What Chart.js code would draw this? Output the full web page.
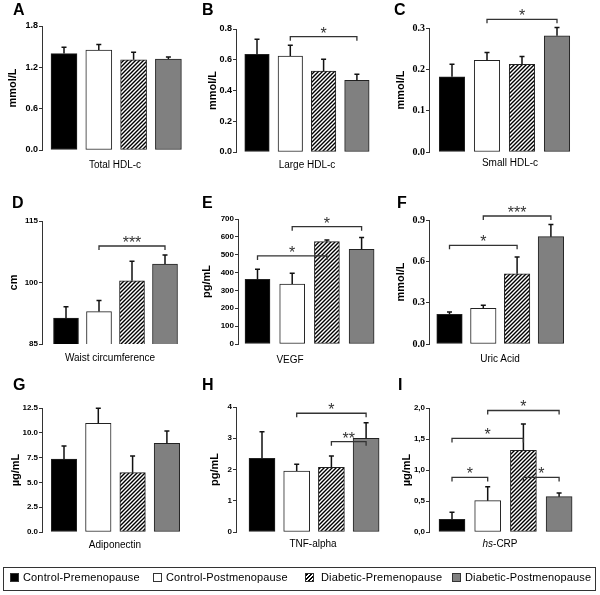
<!doctype html>
<html lang="en">
<head>
<meta charset="utf-8">
<title>HDL subclasses, adipokines and inflammation markers</title>
<script src="https://cdn.jsdelivr.net/npm/chart.js@4.4.0/dist/chart.umd.min.js"></script>
<style>
  body { margin: 0; background: #fff; font-family: "Liberation Sans", Arial, sans-serif; }
  #fig { position: relative; width: 600px; height: 595px; overflow: hidden; }
  #fig canvas { position: absolute; }
  .letter { position: absolute; font-weight: bold; font-size: 16px; line-height: 16px; color: #000; }
  .xlab { position: absolute; font-size: 10px; line-height: 12px; transform: translateX(-50%); white-space: nowrap; }
  #legendBox { position: absolute; left: 3px; top: 567px; width: 593px; height: 24px; box-sizing: border-box; border: 1px solid #333; }
  .key { position: absolute; top: 573px; width: 9px; height: 9px; box-sizing: border-box; border: 1px solid #333; }
  .ktxt { position: absolute; top: 571px; font-size: 11px; line-height: 13px; letter-spacing: 0.15px; white-space: nowrap; }
</style>
</head>
<body>
<div id="fig">
  <div id="legendBox"></div>
</div>

<script>
// groups (legend order)
var groups = ['Control-Premenopause', 'Control-Postmenopause', 'Diabetic-Premenopause', 'Diabetic-Postmenopause'];

// mean values and upper error (SEM) per panel
var totalHdl = [1.40, 1.45, 1.31, 1.32];
var totalHdlErr = [0.09, 0.08, 0.11, 0.03];
var largeHdl = [0.635, 0.624, 0.527, 0.466];
var largeHdlErr = [0.098, 0.070, 0.076, 0.039];
var smallHdl = [0.182, 0.222, 0.212, 0.281];
var smallHdlErr = [0.030, 0.019, 0.019, 0.020];
var waist = [91.3, 92.9, 100.4, 104.5];
var waistErr = [2.8, 2.7, 4.8, 2.2];
var vegf = [362, 336, 573, 530];
var vegfErr = [56, 60, 9, 67];
var uric = [0.215, 0.259, 0.510, 0.779];
var uricErr = [0.017, 0.022, 0.121, 0.089];
var adipo = [7.36, 10.96, 5.98, 8.94];
var adipoErr = [1.31, 1.51, 1.68, 1.24];
var tnf = [2.36, 1.95, 2.07, 3.00];
var tnfErr = [0.85, 0.22, 0.36, 0.50];
var crp = [0.204, 0.505, 1.317, 0.570];
var crpErr = [0.113, 0.226, 0.423, 0.060];

// y tick labels
var totalHdlTicks = [0, 0.6, 1.2, 1.8];
var largeHdlTicks = [0, 0.2, 0.4, 0.6, 0.8];
var smallHdlTicks = [0, 0.1, 0.2, 0.3];
var waistTicks = [85, 100, 115];
var vegfTicks = [0, 100, 200, 300, 400, 500, 600, 700];
var uricTicks = [0, 0.3, 0.6, 0.9];
var adipoTicks = [0, 2.5, 5, 7.5, 10, 12.5];
var tnfTicks = [0, 1, 2, 3, 4];
var crpTicks = [0, 0.5, 1, 1.5, 2];

// significance brackets: [from group, to group, bracket level, stars]
var largeHdlSig = [[2, 4, 0.75, '*']];
var smallHdlSig = [[2, 4, 0.321, '*']];
var waistSig = [[2, 4, 108.9, '***']];
var vegfSig = [[2, 4, 657, '*'], [1, 3, 493, '*']];
var uricSig = [[1, 3, 0.716, '*'], [2, 4, 0.929, '***']];
var tnfSig = [[2, 4, 3.80, '*'], [3, 4, 2.89, '**']];
var crpSig = [[1, 2, 0.88, '*'], [1, 3, 1.51, '*'], [2, 4, 1.96, '*'], [3, 4, 0.88, '*']];

function hatch() {
  var c = document.createElement('canvas');
  c.width = 4; c.height = 4;
  var g = c.getContext('2d');
  g.fillStyle = '#fff'; g.fillRect(0, 0, 4, 4);
  g.strokeStyle = '#000'; g.lineWidth = 1.4;
  g.beginPath();
  g.moveTo(0, 4); g.lineTo(4, 0);
  g.moveTo(-1, 1); g.lineTo(1, -1);
  g.moveTo(3, 5); g.lineTo(5, 3);
  g.stroke();
  return g.createPattern(c, 'repeat');
}

var fills = ['#000', '#fff', hatch(), '#808080'];

var panels = [
  { key: 'A', x: 0, y: 0, vals: totalHdl, err: totalHdlErr, ticks: totalHdlTicks, sig: [], dec: 1, unit: 'mmol/L', name: 'Total HDL-c',
    top: 26, bot: 150, c1: 64, step: 34.8, bw: 26, tf: 9, serif: false, tx: 13, letter: [13, 2], lab: [115, 165] },
  { key: 'B', x: 194, y: 0, vals: largeHdl, err: largeHdlErr, ticks: largeHdlTicks, sig: largeHdlSig, dec: 1, unit: 'mmol/L', name: 'Large HDL-c',
    top: 29, bot: 152, c1: 63, step: 33.3, bw: 24.5, tf: 9, serif: false, tx: 19, letter: [202, 2], lab: [307, 165] },
  { key: 'C', x: 387, y: 0, vals: smallHdl, err: smallHdlErr, ticks: smallHdlTicks, sig: smallHdlSig, dec: 1, unit: 'mmol/L', name: 'Small HDL-c',
    top: 28, bot: 152, c1: 65, step: 35, bw: 25.5, tf: 10, serif: true, tx: 14, letter: [394, 2], lab: [510, 163] },
  { key: 'D', x: 0, y: 185, vals: waist, err: waistErr, ticks: waistTicks, sig: waistSig, dec: 0, unit: 'cm', name: 'Waist circumference',
    top: 36, bot: 159, c1: 66, step: 33, bw: 25, tf: 8, serif: false, tx: 13.5, letter: [12, 195], lab: [110, 358] },
  { key: 'E', x: 196, y: 185, vals: vegf, err: vegfErr, ticks: vegfTicks, sig: vegfSig, dec: 0, unit: 'pg/mL', name: 'VEGF',
    top: 34, bot: 159, c1: 61.5, step: 34.7, bw: 25, tf: 8, serif: false, tx: 10.5, letter: [202, 195], lab: [290, 360] },
  { key: 'F', x: 387, y: 185, vals: uric, err: uricErr, ticks: uricTicks, sig: uricSig, dec: 1, unit: 'mmol/L', name: 'Uric Acid',
    top: 35, bot: 159, c1: 62.5, step: 33.8, bw: 25.5, tf: 10, serif: true, tx: 14, letter: [397, 195], lab: [500, 359] },
  { key: 'G', x: 0, y: 370, vals: adipo, err: adipoErr, ticks: adipoTicks, sig: [], dec: 1, unit: 'µg/mL', name: 'Adiponectin',
    top: 38, bot: 162, c1: 64, step: 34.3, bw: 25.5, tf: 8, serif: false, tx: 15.5, letter: [13, 377], lab: [115, 545] },
  { key: 'H', x: 194, y: 370, vals: tnf, err: tnfErr, ticks: tnfTicks, sig: tnfSig, dec: 0, unit: 'pg/mL', name: 'TNF-alpha',
    top: 37, bot: 162, c1: 68, step: 34.7, bw: 26, tf: 8, serif: false, tx: 21, letter: [202, 377], lab: [313, 544] },
  { key: 'I', x: 387, y: 370, vals: crp, err: crpErr, ticks: crpTicks, sig: crpSig, dec: 1, comma: true, unit: 'µg/mL', name: '<i>hs</i>-CRP',
    top: 38, bot: 162, c1: 65, step: 35.7, bw: 26, tf: 8, serif: false, tx: 20, letter: [398, 377], lab: [500, 544] }
];

// error bars and significance brackets
var whiskers = {
  id: 'whiskers',
  afterDatasetsDraw: function (chart, args, opts) {
    var p = opts.panel, ctx = chart.ctx, xs = chart.scales.x, ys = chart.scales.y;
    ctx.save();
    ctx.strokeStyle = '#111';
    ctx.lineWidth = 1.5;
    p.vals.forEach(function (v, i) {
      var x = xs.getPixelForValue(i + 1);
      var y0 = ys.getPixelForValue(v), y1 = ys.getPixelForValue(v + p.err[i]);
      ctx.beginPath();
      ctx.moveTo(x, y0); ctx.lineTo(x, y1);
      ctx.moveTo(x - 2.5, y1); ctx.lineTo(x + 2.5, y1);
      ctx.stroke();
    });
    ctx.strokeStyle = '#333';
    ctx.fillStyle = '#333';
    ctx.lineWidth = 1.3;
    ctx.font = '16px "Liberation Sans"';
    ctx.textAlign = 'center';
    p.sig.forEach(function (s) {
      var xa = xs.getPixelForValue(s[0]), xb = xs.getPixelForValue(s[1]), y = ys.getPixelForValue(s[2]);
      ctx.beginPath();
      ctx.moveTo(xa, y + 4); ctx.lineTo(xa, y); ctx.lineTo(xb, y); ctx.lineTo(xb, y + 4);
      ctx.stroke();
      ctx.fillText(s[3], (xa + xb) / 2, y + 2);
    });
    ctx.restore();
  }
};

var fig = document.getElementById('fig');
var AXIS = 42, W = 200, H = 185, XMAX = 4.6;

panels.forEach(function (p) {
  var cv = document.createElement('canvas');
  cv.width = W; cv.height = H;
  cv.style.left = p.x + 'px'; cv.style.top = p.y + 'px';
  fig.appendChild(cv);

  var lt = document.createElement('div');
  lt.className = 'letter';
  lt.textContent = p.key;
  lt.style.left = p.letter[0] + 'px'; lt.style.top = p.letter[1] + 'px';
  fig.appendChild(lt);

  var xl = document.createElement('div');
  xl.className = 'xlab';
  xl.innerHTML = p.name;
  xl.style.left = p.lab[0] + 'px'; xl.style.top = (p.lab[1] - 6) + 'px';
  fig.appendChild(xl);

  var xmin = 1 - (p.c1 - AXIS) / p.step;
  var right = AXIS + (XMAX - xmin) * p.step;

  new Chart(cv, {
    type: 'bar',
    data: {
      datasets: [{
        data: p.vals.map(function (v, i) { return { x: i + 1, y: v }; }),
        backgroundColor: fills,
        borderColor: '#222',
        borderWidth: 1,
        borderSkipped: false,
        barThickness: p.bw
      }]
    },
    options: {
      responsive: false,
      animation: false,
      layout: { padding: { left: 0, top: p.top, right: W - right, bottom: H - p.bot } },
      plugins: { legend: { display: false }, tooltip: { enabled: false }, whiskers: { panel: p } },
      scales: {
        x: { type: 'linear', display: false, offset: false, min: xmin, max: XMAX },
        y: {
          min: p.ticks[0], max: p.ticks[p.ticks.length - 1], beginAtZero: false,
          afterFit: function (s) { s.width = AXIS; },
          afterBuildTicks: function (s) { s.ticks = p.ticks.map(function (v) { return { value: v }; }); },
          border: { color: '#333', width: 1 },
          grid: { drawOnChartArea: false, tickLength: 3, tickColor: '#333' },
          ticks: {
            padding: 1, color: '#000',
            font: { family: p.serif ? '"Liberation Serif"' : '"Liberation Sans"', size: p.tf, weight: 'bold' },
            callback: function (v) {
              var s = Number(v).toFixed(p.dec);
              return p.comma ? s.replace('.', ',') : s;
            }
          },
          title: {
            display: true, text: p.unit, color: '#000',
            font: { family: '"Liberation Sans"', size: 11, weight: 'bold' },
            padding: { top: p.tx - 6.6, bottom: 0 }
          }
        }
      }
    },
    plugins: [whiskers]
  });
});

// legend
var keyX = [10, 153, 305, 452];
var txtX = [23, 166, 321, 465];
var keyFill = ['#000', '#fff', 'repeating-linear-gradient(-45deg, #000 0 1.2px, #fff 1.2px 2.8px)', '#808080'];
groups.forEach(function (g, i) {
  var k = document.createElement('div');
  k.className = 'key';
  k.style.left = keyX[i] + 'px';
  k.style.background = keyFill[i];
  fig.appendChild(k);
  var t = document.createElement('div');
  t.className = 'ktxt';
  t.style.left = txtX[i] + 'px';
  t.textContent = g;
  fig.appendChild(t);
});
</script>
</body>
</html>
